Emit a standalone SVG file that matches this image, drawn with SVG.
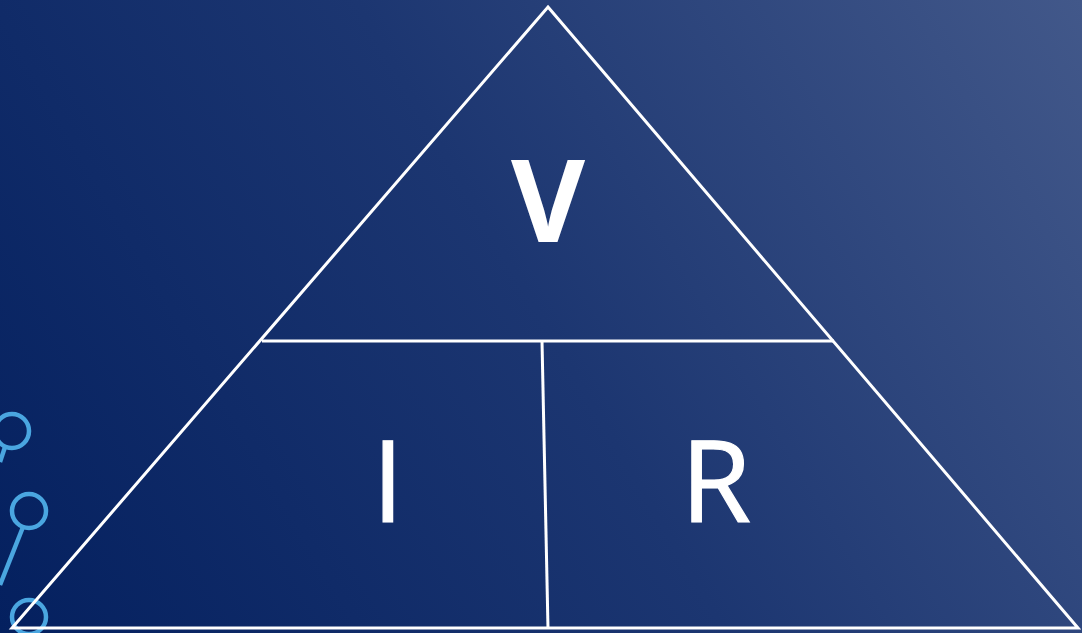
<svg xmlns="http://www.w3.org/2000/svg" width="1082" height="633" viewBox="0 0 1082 633">
<defs>
<linearGradient id="bg" x1="0" y1="633" x2="1082" y2="0" gradientUnits="userSpaceOnUse">
<stop offset="0" stop-color="#04205f"/>
<stop offset="0.5" stop-color="#1c3671"/>
<stop offset="1" stop-color="#42588a"/>
</linearGradient>
<style>
.tri{fill:none;stroke:#ffffff;stroke-width:3;stroke-linejoin:miter}
.dec{fill:none;stroke:#4aa6e0;stroke-width:4.5}
.lbl{fill:#ffffff;font-family:"Open Sans","Liberation Sans",sans-serif;text-anchor:middle}
.thin{stroke:#ffffff;stroke-width:1.2}
</style>
</defs>
<rect x="0" y="0" width="1082" height="633" fill="url(#bg)"/>
<g id="decoration">
<circle class="dec" cx="12" cy="431" r="17"/>
<line class="dec" x1="0" y1="462" x2="5" y2="447"/>
<circle class="dec" cx="29" cy="511" r="17"/>
<line class="dec" x1="23" y1="527" x2="0" y2="585"/>
<circle class="dec" cx="29" cy="617" r="17"/>
</g>
<g id="connectors">
<polygon class="tri" points="548,7 1078,628 12,628"/>
<line class="tri" x1="262" y1="341" x2="834" y2="341"/>
<line class="tri" x1="542" y1="341" x2="548" y2="628"/>
</g>
<g id="node-V"><text class="lbl" x="548" y="242" font-size="114" font-weight="bold">V</text></g>
<g id="node-I"><text class="lbl thin" x="388" y="522" font-size="114">I</text></g>
<g id="node-R"><text class="lbl thin" x="716" y="522" font-size="114">R</text></g>
</svg>
